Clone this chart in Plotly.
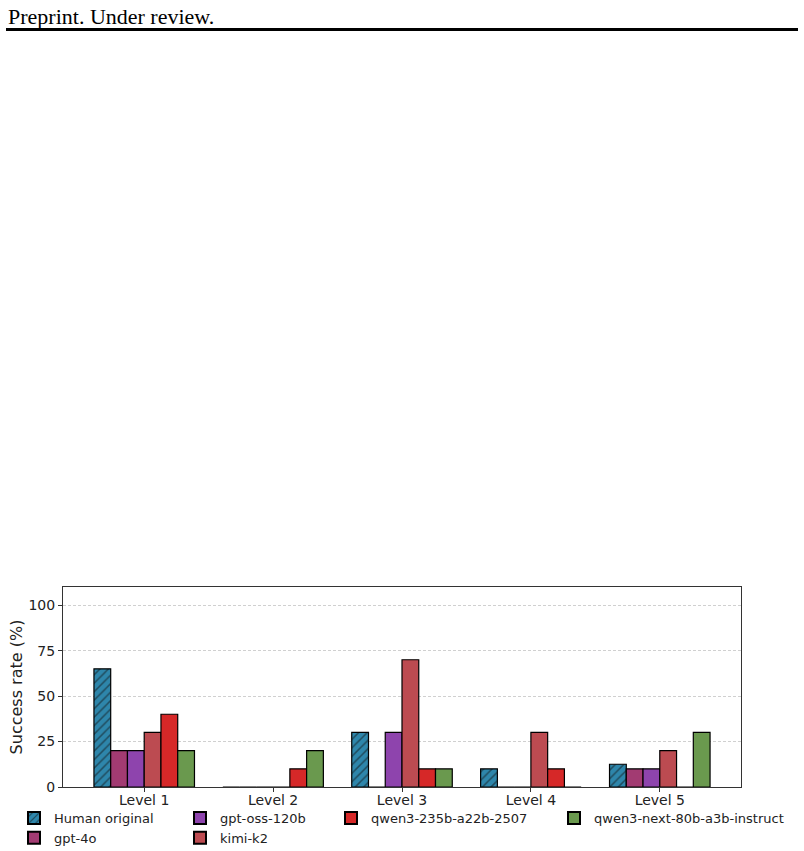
import plotly.graph_objects as go

levels = ["Level 1", "Level 2", "Level 3", "Level 4", "Level 5"]
models = ["Human original", "gpt-4o", "gpt-oss-120b", "kimi-k2",
          "qwen3-235b-a22b-2507", "qwen3-next-80b-a3b-instruct"]
human_original = [65, 0, 30, 10, 12.5]
gpt_4o = [20, 0, 0, 0, 10]
gpt_oss_120b = [20, 0, 30, 0, 10]
kimi_k2 = [30, 0, 70, 30, 20]
qwen3_235b = [40, 10, 10, 10, 0]
qwen3_next = [20, 20, 10, 0, 30]
series = [human_original, gpt_4o, gpt_oss_120b, kimi_k2, qwen3_235b, qwen3_next]
colors = ["#2E86AB", "#A23B72", "#8E44AD", "#BC4B51", "#D62828", "#6A994E"]
legend_ids = ["legend", "legend", "legend2", "legend2", "legend3", "legend4"]

W, H = 804, 851
L, R, T, B = 63, 741, 587, 787
pw, ph = R - L, B - T

def px(x):
    return (x - L) / pw

def py(y):
    return (B - y) / ph

fig = go.Figure()
for i, (name, vals) in enumerate(zip(models, series)):
    pattern = dict(shape="/", fgcolor="#111111", size=6, solidity=0.25) if i == 0 else dict(shape="")
    fig.add_trace(go.Bar(
        x=levels, y=vals, name=name,
        marker=dict(color=colors[i], line=dict(color="black", width=1.2), pattern=pattern),
        legend=legend_ids[i],
    ))

font = "DejaVu Sans, sans-serif"
leg_common = dict(orientation="v", font=dict(family=font, size=13, color="#222"),
                  bgcolor="rgba(0,0,0,0)", borderwidth=0, tracegroupgap=0,
                  xanchor="left", yanchor="top", itemsizing="constant")
ly = py(803)
fig.update_layout(
    width=W, height=H,
    margin=dict(l=L, r=W - R, t=T, b=H - B, pad=0, autoexpand=False),
    paper_bgcolor="white", plot_bgcolor="white",
    barmode="group", bargap=0.22, bargroupgap=0,
    font=dict(family=font, size=13, color="#222"),
    showlegend=True,
    legend=dict(x=px(14), y=ly, **leg_common),
    legend2=dict(x=px(180), y=ly, **leg_common),
    legend3=dict(x=px(331), y=ly, **leg_common),
    legend4=dict(x=px(554), y=ly, **leg_common),
    xaxis=dict(range=[-0.63, 4.63], showline=True, mirror=True, linecolor="#333", linewidth=1,
               ticks="outside", ticklen=4, tickcolor="#333", showgrid=False,
               ticklabelstandoff=-4,
               tickfont=dict(family=font, size=14, color="#222")),
    yaxis=dict(range=[0, 110], tickvals=[0, 25, 50, 75, 100], showline=True, mirror=True,
               linecolor="#333", linewidth=1, ticks="outside", ticklen=4, tickcolor="#333",
               showgrid=True, gridcolor="#d0d0d0", gridwidth=0.8, griddash="3px,2px",
               zeroline=False, tickfont=dict(family=font, size=14, color="#222"),
               title=dict(text="Success rate (%)", font=dict(family=font, size=16, color="#222"),
                          standoff=1)),
    annotations=[dict(text="Preprint. Under review.", xref="paper", yref="paper",
                      x=px(6), y=py(16), xanchor="left", yanchor="middle", showarrow=False,
                      font=dict(family="Liberation Serif, serif", size=22, color="black"))],
    shapes=[dict(type="line", xref="paper", yref="paper", x0=px(6), x1=px(798),
                 y0=py(29.5), y1=py(29.5), line=dict(color="black", width=3))],
)

fig.write_html("out.html")
